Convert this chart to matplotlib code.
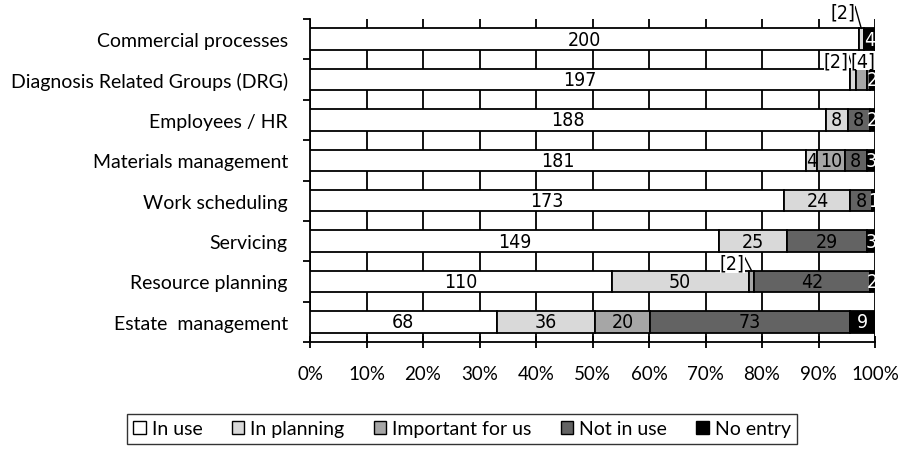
import matplotlib
matplotlib.use("Agg")
import matplotlib.pyplot as plt
import numpy as np

categories = ["Commercial processes", "Diagnosis Related Groups (DRG)", "Employees / HR",
              "Materials management", "Work scheduling", "Servicing",
              "Resource planning", "Estate  management"]
series_names = ["In use", "In planning", "Important for us", "Not in use", "No entry"]
in_use = [200, 197, 188, 181, 173, 149, 110, 68]
in_planning = [2, 2, 8, 4, 24, 25, 50, 36]
important = [0, 4, 0, 10, 0, 0, 2, 20]
not_in_use = [0, 1, 8, 8, 8, 29, 42, 73]
no_entry = [4, 2, 2, 3, 1, 3, 2, 9]
xtick_labels = ["0%", "10%", "20%", "30%", "40%", "50%", "60%", "70%", "80%", "90%", "100%"]

# styling
colors = ["#ffffff", "#d9d9d9", "#a6a6a6", "#636363", "#000000"]
text_colors = ["black", "black", "black", "black", "white"]
narrow = dict(family=["DejaVu Sans"], fontstretch="condensed")
plt.rcParams['font.family'] = ["Lato", "DejaVu Sans"]

# small segments whose labels are placed outside: (row, series) -> (text dx, text dy, leader?)
callouts = {(0, 1): (-3.3, -0.67, True), (1, 1): (-3.0, -0.47, True),
            (1, 2): (0.3, -0.47, False), (6, 2): (-3.4, -0.45, True)}
hidden = {(1, 3)}

data = np.array([in_use, in_planning, important, not_in_use, no_entry], dtype=float)
totals = data.sum(axis=0)
pct = data / totals * 100

fig = plt.figure(figsize=(9.05, 4.52), dpi=100)
ax = fig.add_axes([310/905, 1-343/452, 565/905, 323/452])
y = np.arange(len(categories))
left = np.zeros(len(categories))
bh = 0.53
fs_bar = 14
for i, name in enumerate(series_names):
    ax.barh(y, pct[i], left=left, height=bh, color=colors[i], edgecolor="black",
            linewidth=1.3, label=name, zorder=3)
    for r in range(len(categories)):
        v = data[i, r]
        if v == 0 or (r, i) in hidden:
            continue
        cx = left[r] + pct[i, r] / 2
        if (r, i) in callouts:
            dx, dy, lead = callouts[(r, i)]
            tx, ty = cx + dx, r + dy
            if lead:
                ax.annotate(f"[{int(v)}]", xy=(cx, r - bh/2), xytext=(tx, ty),
                            ha="center", va="center", fontsize=fs_bar, **narrow,
                            zorder=5, annotation_clip=False,
                            bbox=dict(boxstyle="square,pad=0.0", fc="white", ec="none"),
                            arrowprops=dict(arrowstyle="-", lw=1.0, color="black",
                                            relpos=(1.0, 0.8), shrinkA=0, shrinkB=0))
            else:
                ax.text(tx, ty, f"[{int(v)}]", ha="center", va="center", fontsize=fs_bar,
                        **narrow, zorder=5,
                        bbox=dict(boxstyle="square,pad=0.0", fc="white", ec="none"))
        else:
            ax.text(cx, r, f"{int(v)}", ha="center", va="center", fontsize=fs_bar,
                    **narrow, color=text_colors[i], zorder=4, clip_on=False)
    left += pct[i]

ax.set_xlim(0, 100)
ax.set_ylim(len(categories) - 0.5, -0.5)
ax.set_xticks(np.arange(0, 101, 10))
ax.set_xticklabels(xtick_labels, fontsize=13.5)
ax.set_yticks(np.arange(-0.5, len(categories) + 0.5, 1), minor=False)
ax.set_yticklabels([])
ax.set_yticks(y, minor=True)
ax.set_yticklabels(categories, minor=True, fontsize=14)
ax.tick_params(axis="y", which="minor", length=0, pad=16)
ax.tick_params(axis="y", which="major", length=5, width=1.3, direction="out")
ax.tick_params(axis="x", length=9, width=1.3, direction="inout", pad=12)
ax.xaxis.grid(True, color="black", linewidth=1.3, zorder=0)
ax.set_axisbelow(True)
for s in ["top", "right"]:
    ax.spines[s].set_visible(False)
for s in ["left", "bottom"]:
    ax.spines[s].set_linewidth(1.3)

leg = fig.legend(loc="center", bbox_to_anchor=(462/905, 1-430/452), ncol=5, fontsize=14,
                 frameon=True, fancybox=False, edgecolor="black", handlelength=0.65,
                 handleheight=0.65, handletextpad=0.3, columnspacing=1.5, borderpad=0.35)
leg.get_frame().set_linewidth(1.0)
for h in leg.legend_handles:
    h.set_linewidth(1.0)

fig.savefig("out.png", dpi=100)
